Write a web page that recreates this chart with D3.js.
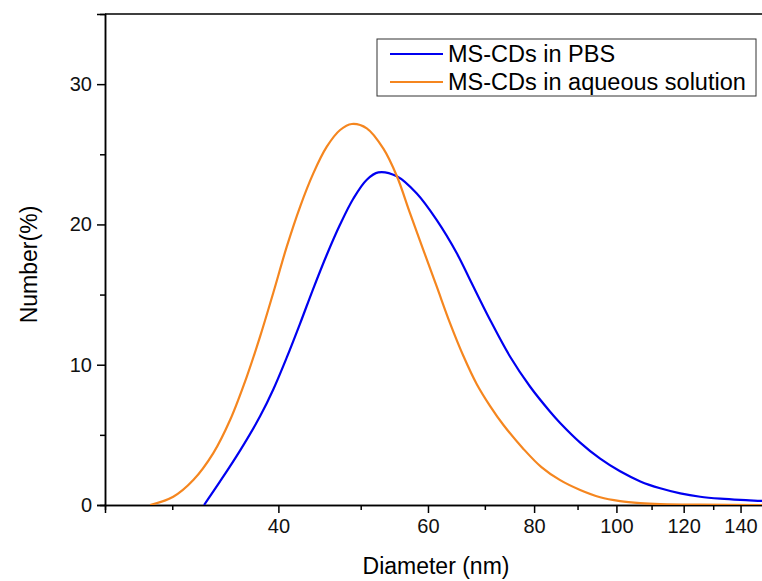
<!DOCTYPE html>
<HTML>
<HEAD>
<TITLE>Size distribution</TITLE>
<STYLE>
body { margin: 0; background: white; }
svg { font-family: "Liberation Sans", Arial, sans-serif; }
</STYLE>
<SCRIPT type="text/javascript" src="https://d3js.org/d3.v7.min.js"></SCRIPT>
</HEAD>
<BODY>
<svg id="chart" width="762" height="581"></svg>
<SCRIPT type="text/javascript">
// values: [diameter nm, number %]
const pbsData = [
    [32.7, 0], [34.15, 1.68], [36.05, 3.88], [38.06, 6.32], [39.46, 8.25],
    [40.91, 10.5], [42.42, 12.93], [43.97, 15.43], [45.61, 17.84], [47.28, 19.99],
    [49.02, 21.85], [50.83, 23.19], [52.45, 23.71], [55.14, 23.43], [58.21, 22.2],
    [61.45, 20.3], [64.88, 17.94], [67.26, 16.04], [71.01, 13.19], [74.97, 10.57],
    [79.15, 8.43], [83.55, 6.65], [85.85, 5.85], [90.64, 4.45], [95.69, 3.3],
    [101.0, 2.4], [106.7, 1.68], [112.6, 1.19], [118.9, 0.83], [125.5, 0.59],
    [132.5, 0.45], [139.9, 0.36], [147.7, 0.3], [150, 0.28]
];
const aqueousData = [
    [28.25, 0], [30.08, 0.59], [31.76, 1.78], [33.53, 3.7], [35.09, 6.06],
    [36.71, 9.14], [38.06, 12.0], [39.46, 15.15], [40.91, 18.4], [42.42, 21.26],
    [43.97, 23.64], [45.61, 25.54], [47.28, 26.73], [48.81, 27.16], [50.83, 26.85],
    [53.17, 25.4], [55.14, 23.45], [57.16, 20.79], [59.26, 18.17], [61.45, 15.56],
    [63.71, 12.95], [66.05, 10.62], [68.49, 8.61], [71.01, 7.05], [73.62, 5.7],
    [77.72, 4.0], [81.6, 2.7], [85.85, 1.77], [90.64, 1.07], [95.69, 0.55], [101.0, 0.28],
    [106.7, 0.14], [112.6, 0.07], [125.5, 0.02], [150, 0]
];
const seriesNames = ["MS-CDs in PBS", "MS-CDs in aqueous solution"];
const seriesColors = ["#0000f0", "#f5861f"];
const xMajorTicks = [40, 60, 80, 100, 120, 140];
const xMinorTicks = [30, 50, 70, 90, 110, 130, 150];
const yMajorTicks = [0, 10, 20, 30];
const yMinorTicks = [5, 15, 25];

const svg = d3.select("#chart");
const LEFT = 105, RIGHT = 766, TOP = 14, BOTTOM = 505;

const xScale = d3.scaleLog().domain([25, 150]).range([LEFT, RIGHT]);
const yScale = d3.scaleLinear().domain([0, 35]).range([BOTTOM, TOP]);

// frame (top + right)
svg.append("path")
   .attr("d", `M${LEFT},${TOP}H${RIGHT}V${BOTTOM}`)
   .style("fill", "none")
   .style("stroke", "black")
   .style("stroke-width", 1.5);

const xAxis = d3.axisBottom(xScale)
                .tickValues(xMajorTicks)
                .tickFormat(d3.format("d"))
                .tickSize(8)
                .tickPadding(6);
const xMinor = d3.axisBottom(xScale)
                 .tickValues(xMinorTicks)
                 .tickFormat("")
                 .tickSize(5);
const yAxis = d3.axisLeft(yScale)
                .tickValues(yMajorTicks)
                .tickSize(8)
                .tickPadding(5);
const yMinor = d3.axisLeft(yScale)
                 .tickValues(yMinorTicks)
                 .tickFormat("")
                 .tickSize(5);

function styleAxis(g) {
    g.selectAll("path, line").style("stroke", "black").style("stroke-width", 1.5);
    g.selectAll("text").style("font-size", "20px").style("fill", "#111")
     .style("font-family", "'Liberation Sans', Arial, sans-serif");
}

svg.append("g").attr("transform", `translate(0, ${BOTTOM})`).call(xMinor).call(styleAxis);
svg.append("g").attr("transform", `translate(0, ${BOTTOM})`).call(xAxis).call(styleAxis);
svg.append("g").attr("transform", `translate(${LEFT}, 0)`).call(yMinor).call(styleAxis);
svg.append("g").attr("transform", `translate(${LEFT}, 0)`).call(yAxis).call(styleAxis);

svg.append("text")
   .attr("x", 436).attr("y", 574)
   .attr("text-anchor", "middle")
   .style("font-size", "23px")
   .text("Diameter (nm)");

svg.append("text")
   .attr("transform", `translate(37, ${(TOP + BOTTOM) / 2 + 5}) rotate(-90)`)
   .attr("text-anchor", "middle")
   .style("font-size", "23px")
   .text("Number(%)");

const line = d3.line()
               .x(d => xScale(d[0]))
               .y(d => yScale(d[1]))
               .curve(d3.curveCatmullRom.alpha(0.5));

const plot = svg.append("g");
plot.append("clipPath").attr("id", "clip")
    .append("rect").attr("x", LEFT).attr("y", TOP - 2)
    .attr("width", RIGHT - LEFT).attr("height", BOTTOM - TOP + 2);

[pbsData, aqueousData].forEach((data, i) => {
    plot.append("path")
        .datum(data)
        .attr("clip-path", "url(#clip)")
        .style("fill", "none")
        .style("stroke", seriesColors[i])
        .style("stroke-width", 2.2)
        .attr("d", line);
});

// legend
const legend = svg.append("g");
legend.append("rect")
      .attr("x", 377).attr("y", 39)
      .attr("width", 379).attr("height", 57)
      .style("fill", "white")
      .style("stroke", "#333")
      .style("stroke-width", 1);
seriesNames.forEach((name, i) => {
    const y = 54 + i * 28;
    legend.append("line")
          .attr("x1", 390).attr("x2", 443)
          .attr("y1", y).attr("y2", y)
          .style("stroke", seriesColors[i])
          .style("stroke-width", 2.2);
    legend.append("text")
          .attr("x", 448).attr("y", y + 8)
          .style("font-size", "23.5px")
          .text(name);
});
</SCRIPT>
</BODY>
</HTML>
